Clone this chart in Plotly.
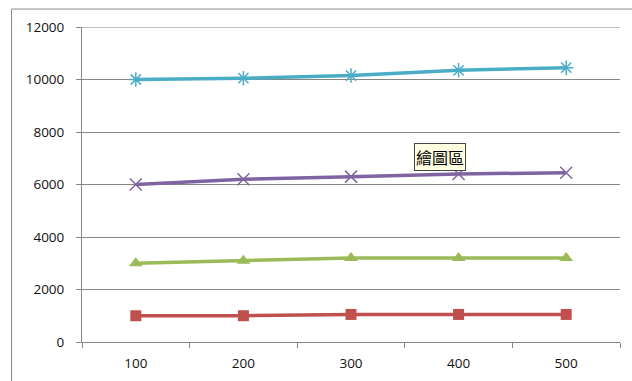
import plotly.graph_objects as go

# Category axis and the four series
categories = ["100", "200", "300", "400", "500"]
series_red = [1000, 1000, 1050, 1050, 1050]
series_green = [3000, 3100, 3200, 3200, 3200]
series_purple = [6000, 6200, 6300, 6400, 6450]
series_blue = [10000, 10050, 10150, 10350, 10450]
y_ticks = [0, 2000, 4000, 6000, 8000, 10000, 12000]

fig = go.Figure()

styles = [
    (series_red, "#C0504D", dict(symbol="square", size=11, color="#C0504D")),
    (series_green, "#9BBB59", dict(symbol="triangle-up", size=12, color="#9BBB59")),
    (series_purple, "#8064A2", dict(symbol="x-thin-open", size=12, line=dict(color="#8064A2", width=1.5))),
    (series_blue, "#4BACC6", dict(symbol="asterisk-open", size=12, line=dict(color="#4BACC6", width=1.5))),
]
for values, color, marker in styles:
    fig.add_trace(go.Scatter(
        x=categories, y=values, mode="lines+markers",
        line=dict(color=color, width=3.5), marker=marker,
        showlegend=False, cliponaxis=False,
    ))

# Outer chart frame
fig.add_shape(type="rect", xref="paper", yref="paper",
              x0=-0.131, x1=1.2, y0=-0.3, y1=1.057,
              line=dict(color="#8C8C8C", width=1), layer="below")

# Top gridline at the axis maximum
fig.add_shape(type="line", xref="paper", yref="y", x0=0, x1=1,
              y0=y_ticks[-1], y1=y_ticks[-1],
              line=dict(color="#868686", width=1), layer="below")

# Hover-style label box
fig.add_annotation(x=0.665, y=0.587, xref="paper", yref="paper", text="繪圖區",
                   showarrow=False, xanchor="center", yanchor="middle",
                   font=dict(family="Noto Sans CJK TC", size=16, color="#000000"),
                   bgcolor="#FFFFE1", bordercolor="#444444", borderwidth=1, borderpad=1)

fig.update_layout(
    width=632, height=381,
    margin=dict(l=82, r=12, t=27, b=39, autoexpand=False),
    paper_bgcolor="white", plot_bgcolor="white",
    font=dict(family="Open Sans", size=12, color="#111111"),
)
fig.update_xaxes(
    type="category", showgrid=False, showline=True, linecolor="#868686", linewidth=1,
    ticks="outside", tickson="boundaries", ticklen=5, tickcolor="#868686",
    tickfont=dict(size=13.5), range=[-0.5, 4.5], ticklabelstandoff=9, automargin=False,
)
fig.update_yaxes(
    range=[0, 12000], tickvals=y_ticks, ticktext=[str(v) for v in y_ticks],
    showgrid=True, gridcolor="#868686", gridwidth=1,
    showline=True, linecolor="#868686", linewidth=1,
    ticks="outside", ticklen=5, tickcolor="#868686", zeroline=False,
    tickfont=dict(size=13.5), ticklabelstandoff=9, automargin=False,
)

fig.write_html("out.html")
